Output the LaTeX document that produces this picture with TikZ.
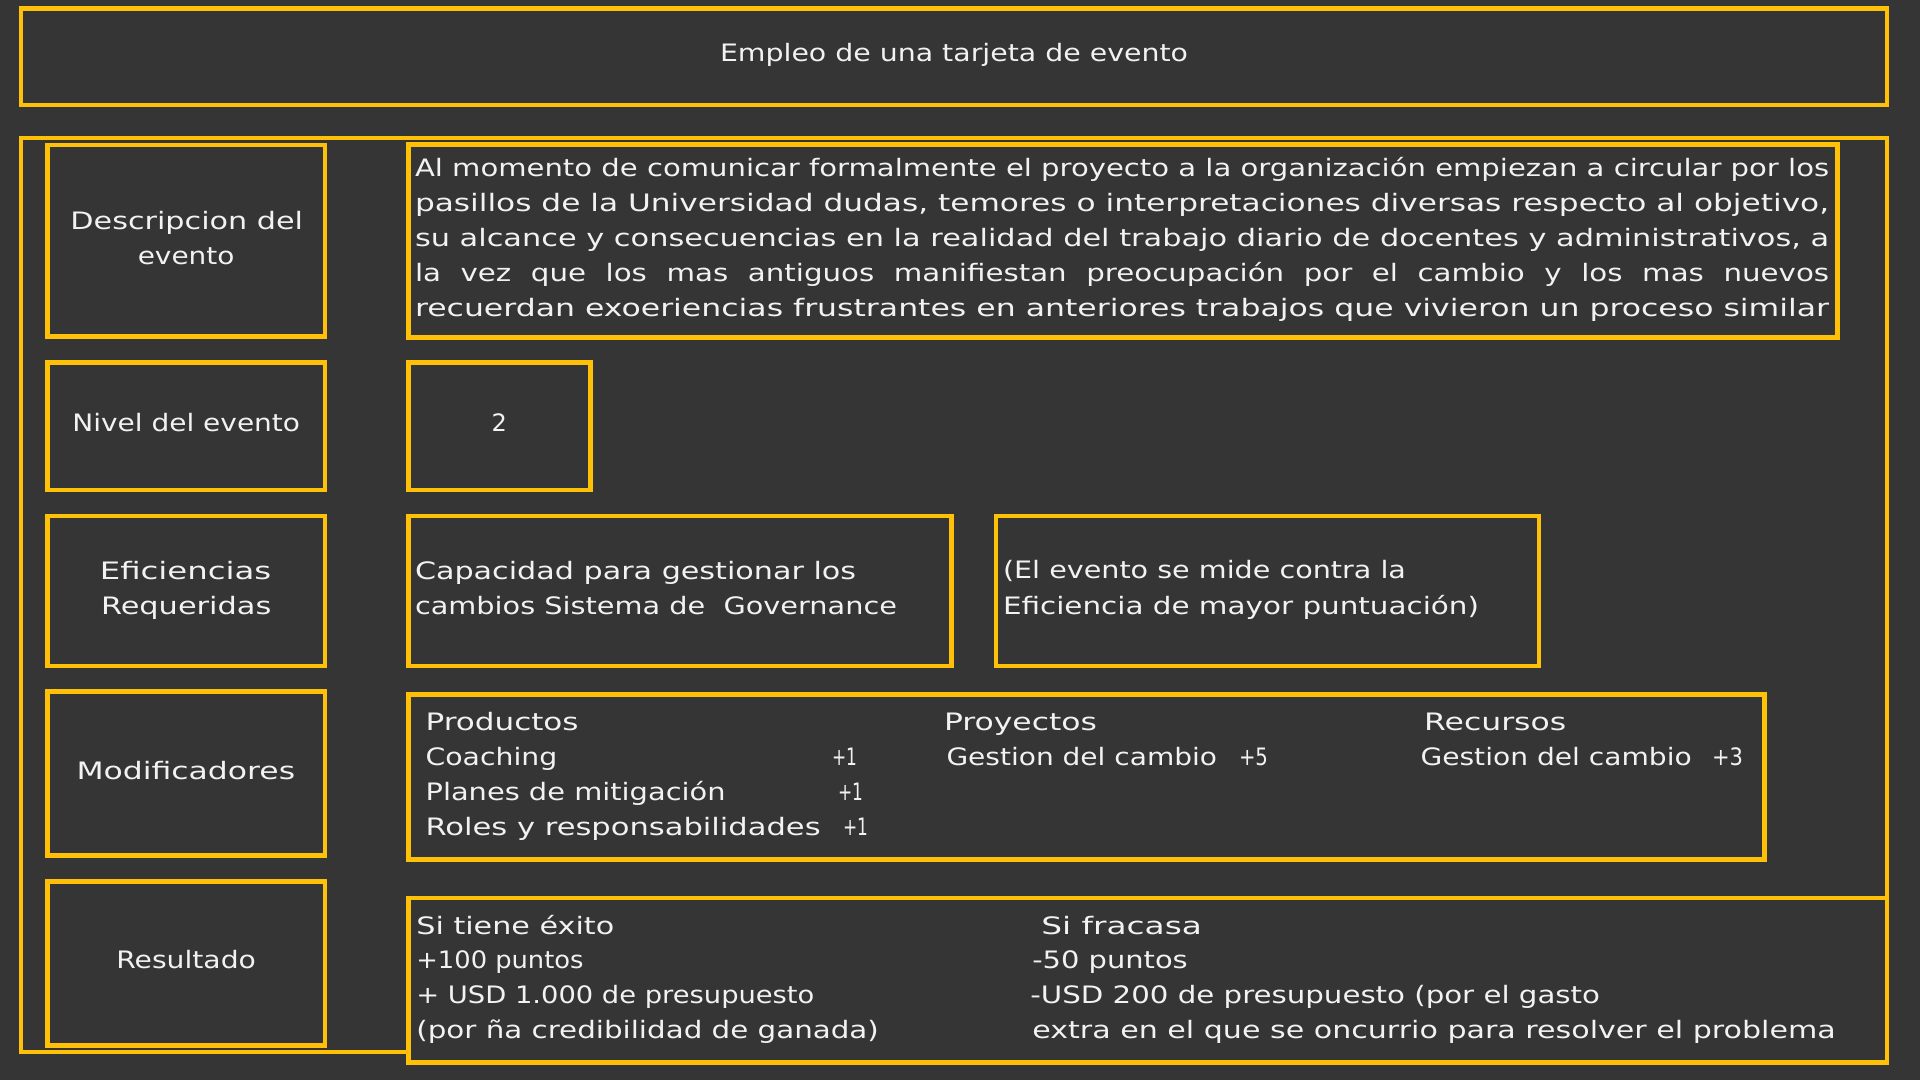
\documentclass[tikz,border=0pt]{standalone}
\usepackage{fontspec}
\setmainfont{DejaVu Sans}[FakeStretch=1.22]
\usepackage{graphicx}
\definecolor{bg}{HTML}{353535}
\definecolor{amb}{HTML}{FFC107}
\definecolor{txt}{HTML}{F2F2F2}
\newcommand{\tw}[2]{\resizebox{#1pt}{\height}{#2}}
\newcommand{\jline}[1]{\makebox[1414pt][s]{#1}}
\tikzset{
  box/.style={draw=amb, line width=4.5pt, fill=bg, inner sep=0pt, outer sep=0pt, anchor=north west},
  lbl/.style={text=txt, inner sep=0pt, outer sep=0pt, anchor=base west, font=\fontsize{24}{30}\selectfont},
}
\begin{document}
\begin{tikzpicture}[x=1pt,y=-1pt]
\fill[bg] (0,0) rectangle (1920,1080);
\useasboundingbox (0,0) rectangle (1920,1080);
% boxes
\node[box, minimum width=1866pt, minimum height=96.5pt] (titlebox) at (21,8.5) {};
\node[box, minimum width=1866pt, minimum height=914pt] (outer) at (21,138) {};
\node[box, minimum width=277.5pt, minimum height=191.5pt] (bdesc) at (47.5,145) {};
\node[box, minimum width=277.5pt, minimum height=127.5pt] (bniv) at (47.5,362.5) {};
\node[box, minimum width=277.5pt, minimum height=150pt] (befi) at (47.5,516) {};
\node[box, minimum width=277.5pt, minimum height=164pt] (bmod) at (47.5,691.5) {};
\node[box, minimum width=277.5pt, minimum height=164pt] (bres) at (47.5,881.5) {};
\node[box, minimum width=1429pt, minimum height=193pt] (rdesc) at (408.7,144.5) {};
\node[box, minimum width=182pt, minimum height=127.5pt] (rniv) at (408.7,362.5) {};
\node[box, minimum width=543pt, minimum height=150pt] (rcap) at (408.7,516) {};
\node[box, minimum width=543pt, minimum height=150pt] (rmide) at (996,516) {};
\node[box, minimum width=1356pt, minimum height=165pt] (rmod) at (408.7,694.5) {};
\node[box, minimum width=1478.3pt, minimum height=164.5pt] (rres) at (408.7,898) {};
% title
\node[lbl] (ttitle) at (720,61.7) {\tw{468}{Empleo de una tarjeta de evento}};
% left labels
\node[lbl] (ldesc1) at (70.4,229.3) {\tw{232.7}{Descripcion del}};
\node[lbl] (ldesc2) at (137.8,264.3) {\tw{96.7}{evento}};
\node[lbl] (lniv) at (72.3,431.7) {\tw{227.8}{Nivel del evento}};
\node[lbl] (lefi1) at (99.8,579.3) {\tw{171.5}{Eficiencias}};
\node[lbl] (lefi2) at (101,614) {\tw{170.3}{Requeridas}};
\node[lbl] (lmod) at (76.5,779) {\tw{218.6}{Modificadores}};
\node[lbl] (lres) at (116.3,968.7) {\tw{139.6}{Resultado}};
% description
\node[lbl] (d1) at (415,176.7) {\tw{1414}{Al momento de comunicar formalmente el proyecto a la organización empiezan a circular por los}};
\node[lbl] (d2) at (415,211.7) {\tw{1414}{pasillos de la Universidad dudas, temores o interpretaciones diversas respecto al objetivo,}};
\node[lbl] (d3) at (415,246.7) {\tw{1414}{su alcance y consecuencias en la realidad del trabajo diario de docentes y administrativos, a}};
\node[lbl] (d4) at (415,281.7) {\jline{la vez que los mas antiguos manifiestan preocupación por el cambio y los mas nuevos}};
\node[lbl] (d5) at (415,316.7) {\tw{1414}{recuerdan exoeriencias frustrantes en anteriores trabajos que vivieron un proceso similar}};
% nivel
\node[lbl] (vniv) at (491.7,431.7) {\tw{15.3}{2}};
% eficiencias
\node[lbl] (c1) at (415,579.3) {\tw{441}{Capacidad para gestionar los}};
\node[lbl] (c2) at (415,614) {\tw{482}{cambios Sistema de\ \ Governance}};
\node[lbl] (m1) at (1003,578.7) {\tw{403}{(El evento se mide contra la}};
\node[lbl] (m2) at (1003,614) {\tw{476}{Eficiencia de mayor puntuación)}};
% modificadores
\node[lbl] (p0) at (425.6,730) {\tw{153}{Productos}};
\node[lbl] (p1) at (425.6,765) {\tw{131.7}{Coaching}};
\node[lbl] (p1v) at (832,765) {\tw{25}{+1}};
\node[lbl] (p2) at (425.6,800) {\tw{300}{Planes de mitigación}};
\node[lbl] (p2v) at (838,800) {\tw{25}{+1}};
\node[lbl] (p3) at (425.6,835) {\tw{395}{Roles y responsabilidades}};
\node[lbl] (p3v) at (843,835) {\tw{25}{+1}};
\node[lbl] (q0) at (944,730) {\tw{153}{Proyectos}};
\node[lbl] (q1) at (946.5,765) {\tw{270.5}{Gestion del cambio}};
\node[lbl] (q1v) at (1239,765) {\tw{29}{+5}};
\node[lbl] (r0) at (1424.2,730) {\tw{142}{Recursos}};
\node[lbl] (r1) at (1420.5,765) {\tw{271.3}{Gestion del cambio}};
\node[lbl] (r1v) at (1712,765) {\tw{31}{+3}};
% resultado
\node[lbl] (s1) at (416.4,934) {\tw{197.8}{Si tiene éxito}};
\node[lbl] (s2) at (416.4,968.7) {\tw{167.2}{+100 puntos}};
\node[lbl] (s3) at (416.4,1003.3) {\tw{398}{+ USD 1.000 de presupuesto}};
\node[lbl] (s4) at (416.4,1038.3) {\tw{462.4}{(por ña credibilidad de ganada)}};
\node[lbl] (f1) at (1041.4,934) {\tw{160.5}{Si fracasa}};
\node[lbl] (f2) at (1032.3,968.7) {\tw{155.5}{-50 puntos}};
\node[lbl] (f3) at (1030.4,1003.3) {\tw{569.6}{-USD 200 de presupuesto (por el gasto}};
\node[lbl] (f4) at (1032.3,1038.3) {\tw{803.4}{extra en el que se oncurrio para resolver el problema}};
\end{tikzpicture}
\end{document}
